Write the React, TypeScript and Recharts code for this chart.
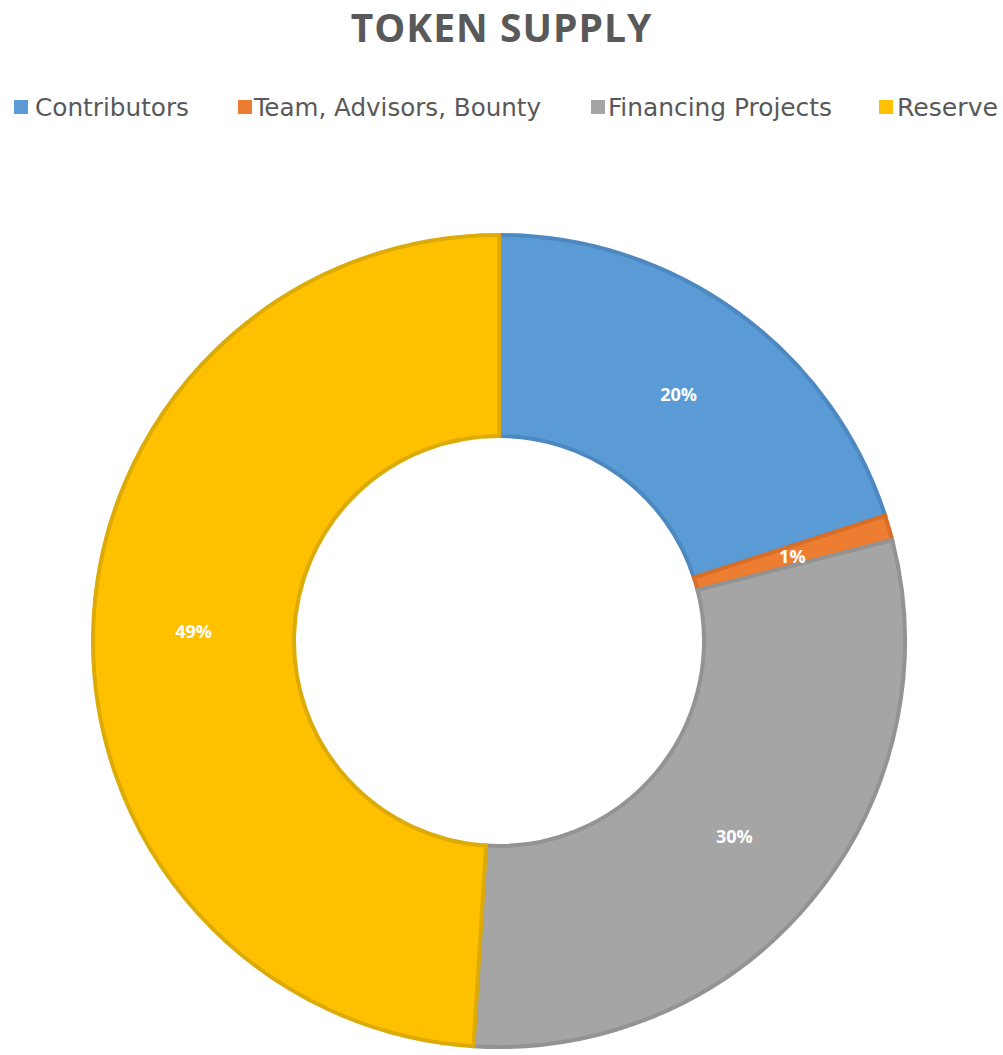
import React from 'react';
import { PieChart, Pie, Cell } from 'recharts';

const CATEGORIES = ['Contributors', 'Team, Advisors, Bounty', 'Financing Projects', 'Reserve'];
const SHARES = [20, 1, 30, 49];

const COLORS = ['#5b9bd5', '#ed7d31', '#a5a5a5', '#ffc000'];
const EDGES = ['#4d88c0', '#d96e26', '#939393', '#dcab08'];

// legend layout (square x, text start, text width)
const LEGEND_SQ = [14, 238, 591, 879];
const LEGEND_TX = [35, 254, 608, 897];
const LEGEND_W = [154, 287, 224, 101];

const data = CATEGORIES.map((name, i) => ({ name, value: SHARES[i] }));

const RADIAN = Math.PI / 180;

const renderLabel = (props: any) => {
  const { cx, cy, midAngle, innerRadius, outerRadius, value } = props;
  const r = (innerRadius + outerRadius) / 2;
  const x = cx + r * Math.cos(-midAngle * RADIAN);
  const y = cy + r * Math.sin(-midAngle * RADIAN);
  return (
    <text
      x={x}
      y={y}
      fill="#ffffff"
      textAnchor="middle"
      dominantBaseline="central"
      style={{ fontFamily: 'Open Sans', fontWeight: 700, fontSize: 18 }}
    >
      {`${value}%`}
    </text>
  );
};

function LegendRow() {
  return (
    <svg width={1003} height={40} style={{ position: 'absolute', left: 0, top: 88 }}>
      {CATEGORIES.map((name, i) => (
        <g key={name}>
          <rect x={LEGEND_SQ[i]} y={12} width={14} height={14} fill={COLORS[i]} />
          <text
            x={LEGEND_TX[i]}
            y={28}
            textLength={LEGEND_W[i]}
            lengthAdjust="spacingAndGlyphs"
            fill="#595959"
            style={{ fontFamily: '"DejaVu Sans Condensed", "DejaVu Sans"', fontSize: 25 }}
          >
            {name}
          </text>
        </g>
      ))}
    </svg>
  );
}

export default function App() {
  return (
    <div style={{ position: 'absolute', left: 0, top: 0, width: 1003, height: 1055, background: '#fff' }}>
      <div
        style={{
          position: 'absolute',
          top: 0,
          width: 1003,
          textAlign: 'center',
          fontFamily: 'Open Sans',
          fontWeight: 700,
          fontSize: 39,
          letterSpacing: 1,
          color: '#595959',
        }}
      >
        TOKEN SUPPLY
      </div>
      <LegendRow />
      <div style={{ position: 'absolute', left: 0, top: 0 }}>
        <PieChart width={1003} height={1055} margin={{ top: 0, right: 0, bottom: 0, left: 0 }}>
          <Pie
            data={data}
            dataKey="value"
            nameKey="name"
            cx={499}
            cy={641}
            innerRadius={205}
            outerRadius={406}
            startAngle={90}
            endAngle={-270}
            label={renderLabel}
            labelLine={false}
            isAnimationActive={false}
          >
            {data.map((d, i) => (
              <Cell key={d.name} fill={COLORS[i]} stroke={EDGES[i]} strokeWidth={4} />
            ))}
          </Pie>
        </PieChart>
      </div>
    </div>
  );
}
